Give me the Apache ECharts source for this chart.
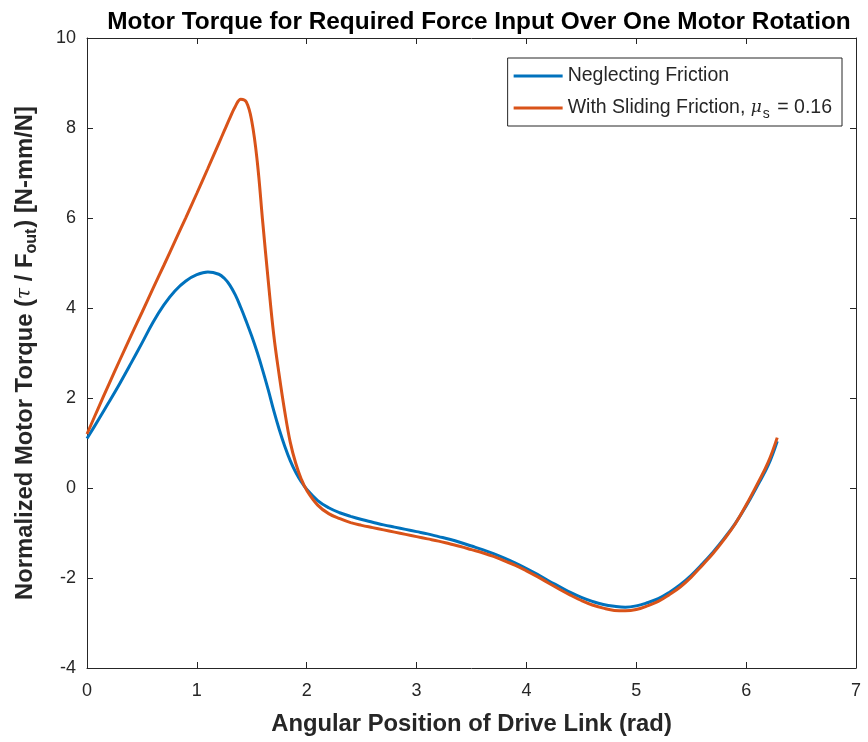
<!DOCTYPE html>
<html>
<head>
<meta charset="utf-8">
<script src="https://cdn.jsdelivr.net/npm/echarts@6/dist/echarts.min.js"></script>
<style>
  html, body { margin: 0; padding: 0; background: #fff; }
  #torque { width: 868px; height: 742px; }
</style>
</head>
<body>
<div id="torque"></div>
<script>
// angular position of the drive link (rad)
const angle = [0, 0.1, 0.2, 0.3, 0.4, 0.5, 0.6, 0.7, 0.8, 0.9, 1.0, 1.1, 1.2, 1.25, 1.3, 1.35, 1.4, 1.45, 1.5, 1.55, 1.6, 1.65, 1.7, 1.75, 1.8, 1.85, 1.9, 1.95, 2.0,
  2.1, 2.2, 2.3, 2.4, 2.5, 2.6, 2.7, 2.8, 2.9, 3.0, 3.1, 3.2, 3.3, 3.4, 3.5, 3.6, 3.7, 3.8, 3.9, 4.0,
  4.1, 4.2, 4.3, 4.4, 4.5, 4.6, 4.7, 4.8, 4.9, 5.0, 5.1, 5.2, 5.3, 5.4, 5.5, 5.6, 5.7, 5.8, 5.9, 6.0, 6.1, 6.2, 6.283];
// normalized torque, neglecting friction
const noFriction = [1.10, 1.50, 1.91, 2.33, 2.77, 3.22, 3.68, 4.07, 4.38, 4.60, 4.74, 4.80, 4.75, 4.66, 4.51, 4.29, 4.01, 3.70, 3.37, 3.01, 2.61, 2.18, 1.72, 1.30, 0.93, 0.61, 0.35, 0.14, -0.03,
  -0.28, -0.44, -0.55, -0.63, -0.70, -0.76, -0.82, -0.87, -0.92, -0.97, -1.02, -1.08, -1.14, -1.21, -1.29, -1.37, -1.46, -1.56, -1.67, -1.79,
  -1.92, -2.06, -2.19, -2.32, -2.43, -2.52, -2.59, -2.63, -2.65, -2.62, -2.55, -2.46, -2.32, -2.15, -1.94, -1.69, -1.42, -1.12, -0.79, -0.40, 0.04, 0.50, 1.04];
// normalized torque, sliding friction mu_s = 0.16
const withFriction = [1.20, 1.76, 2.31, 2.85, 3.38, 3.90, 4.43, 4.95, 5.48, 6.01, 6.55, 7.10, 7.66, 7.94, 8.22, 8.48, 8.64, 8.58, 8.15, 7.25, 5.90, 4.60, 3.40, 2.50, 1.70, 1.02, 0.55, 0.20, -0.05,
  -0.38, -0.57, -0.68, -0.77, -0.83, -0.88, -0.93, -0.98, -1.03, -1.08, -1.13, -1.18, -1.24, -1.30, -1.37, -1.44, -1.52, -1.62, -1.72, -1.84,
  -1.97, -2.11, -2.25, -2.38, -2.50, -2.60, -2.67, -2.72, -2.73, -2.70, -2.62, -2.52, -2.37, -2.20, -1.98, -1.72, -1.45, -1.14, -0.80, -0.38, 0.08, 0.57, 1.12];

const seriesNames = ['Neglecting Friction', 'With Sliding Friction'];

const ink = '#262626';
const chart = echarts.init(document.getElementById('torque'));

function pairs(ys) {
  return angle.map((x, i) => [x, ys[i]]);
}

const axisStyle = {
  min: 0, max: 7, interval: 1,
  axisLine: { show: true, onZero: false, lineStyle: { color: ink, width: 1 } },
  axisTick: { show: true, inside: true, length: 6, lineStyle: { color: ink } },
  splitLine: { show: false }
};

chart.setOption({
  animation: false,
  title: {
    text: 'Motor Torque for Required Force Input Over One Motor Rotation',
    left: 474, top: 5, textAlign: 'center',
    textStyle: { fontFamily: 'Liberation Sans', fontWeight: 'bold', fontSize: 24.4, color: '#000' }
  },
  grid: { left: 87, right: 12, top: 38, bottom: 74 },
  legend: {
    orient: 'vertical',
    right: 26, top: 58,
    padding: [8, 10, 5, 6],
    itemGap: 12,
    itemWidth: 49, itemHeight: 3,
    backgroundColor: '#fff',
    borderColor: ink, borderWidth: 1,
    icon: 'rect',
    data: seriesNames,
    formatter: function (name) {
      if (name === seriesNames[1]) return '{t|With Sliding Friction, }{i|μ}{sub|s}{t| = 0.16}';
      return '{t|' + name + '}';
    },
    textStyle: {
      fontFamily: 'Liberation Sans', fontSize: 19.5, color: ink,
      rich: {
        t: { fontFamily: 'Liberation Sans', fontSize: 19.5, color: ink },
        i: { fontFamily: 'DejaVu Serif', fontStyle: 'italic', fontSize: 17, color: ink },
        sub: { fontFamily: 'Liberation Sans', fontSize: 14, color: ink, padding: [12, 2, 0, 1] }
      }
    }
  },
  xAxis: [
    Object.assign({}, axisStyle, {
      type: 'value', position: 'bottom',
      name: 'Angular Position of Drive Link (rad)',
      nameLocation: 'middle', nameGap: 44,
      nameTextStyle: { fontFamily: 'Liberation Sans', fontWeight: 'bold', fontSize: 23.8, color: ink },
      axisLabel: { fontFamily: 'Liberation Sans', fontSize: 18, color: ink, margin: 14 }
    }),
    Object.assign({}, axisStyle, { type: 'value', position: 'top', axisLabel: { show: false } })
  ],
  yAxis: [
    Object.assign({}, axisStyle, {
      type: 'value', position: 'left', min: -4, max: 10, interval: 2,
      name: '{b|Normalized Motor Torque (}{i|τ}{b| / F}{sub|out}{b|) [N-mm/N]}',
      nameLocation: 'middle', nameGap: 47,
      nameTextStyle: {
        color: ink,
        rich: {
          b: { fontFamily: 'Liberation Sans', fontWeight: 'bold', fontSize: 23.8, color: ink },
          i: { fontFamily: 'DejaVu Serif', fontStyle: 'italic', fontSize: 20, color: ink },
          sub: { fontFamily: 'Liberation Sans', fontWeight: 'bold', fontSize: 16, color: ink, padding: [14, 1, 0, 0] }
        }
      },
      axisLabel: { fontFamily: 'Liberation Sans', fontSize: 18, color: ink, margin: 11 }
    }),
    Object.assign({}, axisStyle, { type: 'value', position: 'right', min: -4, max: 10, interval: 2, axisLabel: { show: false } })
  ],
  series: [
    {
      name: seriesNames[0], type: 'line', smooth: 0.4, showSymbol: false,
      lineStyle: { color: '#0072BD', width: 3 }, itemStyle: { color: '#0072BD' },
      data: pairs(noFriction)
    },
    {
      name: seriesNames[1], type: 'line', smooth: 0.4, showSymbol: false,
      lineStyle: { color: '#D95319', width: 3 }, itemStyle: { color: '#D95319' },
      data: pairs(withFriction)
    }
  ]
});
</script>
</body>
</html>
